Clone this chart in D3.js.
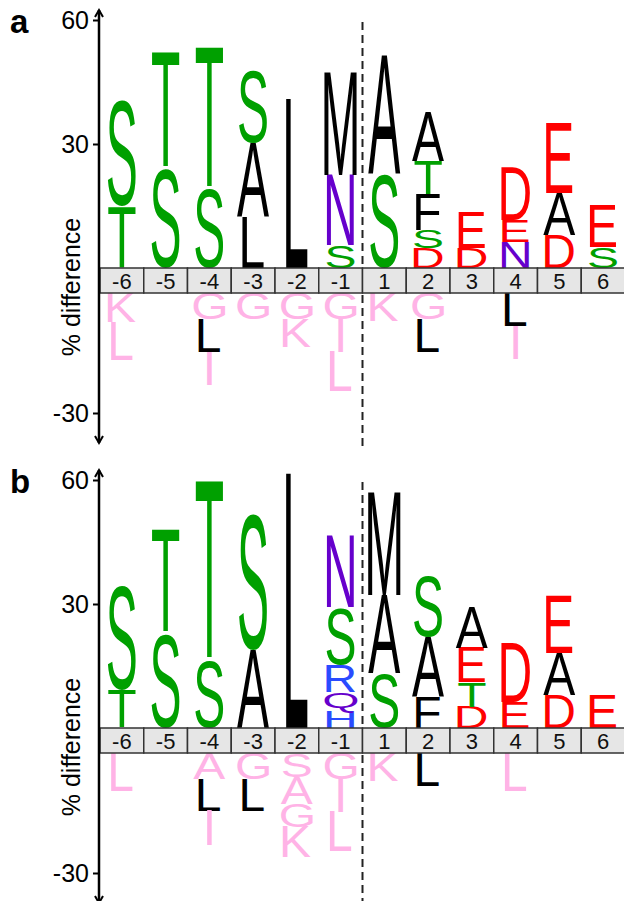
<!DOCTYPE html>
<html><head><meta charset="utf-8">
<script src="https://cdn.jsdelivr.net/npm/d3@7"></script>
<style>body{margin:0;background:#fff}svg{display:block}</style>
</head><body>
<svg id="chart" width="624" height="901"></svg>
<script>
const positions = ["-6","-5","-4","-3","-2","-1","1","2","3","4","5","6"];
const yTicksUp = [30, 60];
const yTicksDown = [-30];
const panelLabels = ["a", "b"];
const axisTitle = "% difference";

// Panel a — stacks listed from the band outward
const aUpLetters = [["T","S"],["S","T"],["S","T"],["L","A","S"],["L"],["S","N","M"],["S","A"],["D","S","F","T","A"],["D","E"],["N","E","D"],["D","A","E"],["S","E"]];
const aUpValues  = [[14.8,25.9],[24.2,28.1],[19.4,34.1],[12.3,17.9,17.9],[40.9],[5.6,16.9,24.9],[23.0,28.6],[4.8,4.4,8.5,8.2,11.6],[4.8,8.5],[6.3,5.3,12.6],[8.0,10.2,16.9],[5.1,10.2]];
const aDownLetters = [["K","L"],[],["G","L","I"],["G"],["G","K"],["G","I","L"],["K"],["G","L"],[],["L","I"],[],[]];
const aDownValues  = [[7.2,9.5],[],[6.5,8.2,8.2],[6.5],[6.5,7.0],[6.5,8.2,9.8],[7.0],[6.5,8.2],[],[8.2,8.2],[],[]];
const aDownTone    = [["pink","pink"],[],["pink","black","pink"],["pink"],["pink","pink"],["pink","pink","pink"],["pink"],["pink","black"],[],["black","pink"],[],[]];

// Panel b
const bUpLetters = [["T","S"],["S","T"],["S","T"],["A","S"],["L"],["H","Q","R","S","N"],["S","A","M"],["F","A","S"],["D","T","E","A"],["E","D"],["D","A","E"],["E"]];
const bUpValues  = [[9.2,25.4],[23.0,24.9],[16.5,43.1],[18.9,33.4],[61.7],[3.9,4.8,6.5,14.0,17.4],[13.3,18.9,24.7],[7.5,14.5,15.0],[5.1,6.0,8.2,9.9],[6.3,14.3],[8.0,10.2,14.0],[8.0]];
const bDownLetters = [["L"],[],["A","L","I"],["G","L"],["S","A","G","K"],["G","I","L"],["K"],["L"],[],["L"],[],[]];
const bDownValues  = [[9.5],[],[6.5,8.0,8.5],[6.5,8.0],[6.0,6.8,5.8,7.5],[6.5,8.2,9.8],[7.0],[8.2],[],[9.5],[],[]];
const bDownTone    = [["pink"],[],["pink","black","pink"],["pink","black"],["pink","pink","pink","pink"],["pink","pink","pink"],["pink"],["black"],[],["pink"],[],[]];

const colorMap = {S:"#00a000",T:"#00a000",A:"#000000",L:"#000000",M:"#000000",F:"#000000",
  N:"#6600cc",Q:"#6600cc",R:"#2a4bff",H:"#2a4bff",D:"#ff0000",E:"#ff0000"};
const toneMap = {pink:"#ffb3e6", black:"#000000"};

const FONT = "'Liberation Sans', Arial, Helvetica, sans-serif";
const svg = d3.select("#chart");
const ctx = document.createElement("canvas").getContext("2d");
ctx.font = "100px " + FONT;
const mCache = {};
function metrics(ch){
  if(!mCache[ch]){
    const m = ctx.measureText(ch);
    mCache[ch] = {left:m.actualBoundingBoxLeft, right:m.actualBoundingBoxRight,
      ascent:m.actualBoundingBoxAscent, descent:m.actualBoundingBoxDescent};
  }
  return mCache[ch];
}
function drawLetter(g, ch, color, cx, yTop, yBottom){
  const m = metrics(ch);
  const inkW = m.left + m.right;
  const w = inkW * 0.48;
  const h = yBottom - yTop;
  if(h <= 0) return;
  const sx = w / inkW, sy = h / (m.ascent + m.descent);
  g.append("text").text(ch)
    .attr("font-family", FONT).attr("font-size", 100).attr("fill", color)
    .attr("transform", `translate(${cx - w/2},${yTop}) scale(${sx},${sy}) translate(${m.left},${m.ascent})`);
}

const x = d3.scaleBand().domain(positions).range([100, 625]).padding(0);
const axisX = 99;

function drawPanel(off, label, upL, upV, dnL, dnV, dnT){
  const bandTop = 268 + off, bandBot = 293 + off;
  const yUp = d3.scaleLinear().domain([0, 60]).range([bandTop, 20 + off]);
  const yDn = d3.scaleLinear().domain([0, -30]).range([bandBot, 413 + off]);
  const g = svg.append("g");

  // dashed separator (behind letters)
  const xs = x("1");
  g.append("line").attr("x1", xs).attr("x2", xs).attr("y1", 22 + off).attr("y2", Math.min(448 + off, 901))
    .attr("stroke", "#222").attr("stroke-width", 2).attr("stroke-dasharray", "8,5");

  positions.forEach((p, i) => {
    const cx = x(p) + x.bandwidth()/2;
    let cum = 0;
    upL[i].forEach((ch, j) => {
      const v0 = cum, v1 = cum + upV[i][j];
      drawLetter(g, ch, colorMap[ch], cx, yUp(v1), yUp(v0));
      cum = v1;
    });
    cum = 0;
    dnL[i].forEach((ch, j) => {
      const v0 = cum, v1 = cum - dnV[i][j];
      drawLetter(g, ch, toneMap[dnT[i][j]], cx, yDn(v0), yDn(v1));
      cum = v1;
    });
  });

  // position band
  const band = g.append("g");
  band.selectAll("rect").data(positions).join("rect")
    .attr("x", d => x(d)).attr("y", bandTop).attr("width", x.bandwidth()).attr("height", bandBot - bandTop)
    .attr("fill", "#e6e6e6").attr("stroke", "#333").attr("stroke-width", 1.5);
  band.selectAll("text").data(positions).join("text")
    .attr("x", d => x(d) + x.bandwidth()/2).attr("y", (bandTop + bandBot)/2 + 8)
    .attr("text-anchor", "middle").attr("font-family", FONT).attr("font-size", 22).attr("fill", "#111")
    .text(d => d);

  // axes
  const axUp = d3.axisLeft(yUp).tickValues(yTicksUp).tickSize(6).tickPadding(4);
  const axDn = d3.axisLeft(yDn).tickValues(yTicksDown).tickFormat(d => d).tickSize(6).tickPadding(4);
  [axUp, axDn].forEach(ax => {
    const a = g.append("g").attr("transform", `translate(${axisX},0)`).call(ax);
    a.select(".domain").remove();
    a.selectAll("line").attr("stroke", "#000").attr("stroke-width", 2);
    a.selectAll("text").attr("font-family", FONT).attr("font-size", 25).attr("fill", "#000");
  });
  const yA = 10 + off, yB = 443 + off;
  g.append("line").attr("x1", axisX).attr("x2", axisX).attr("y1", yA).attr("y2", yB)
    .attr("stroke", "#000").attr("stroke-width", 2.5);
  g.append("path").attr("d", `M${axisX-4},${yA+7}L${axisX},${yA}L${axisX+4},${yA+7}`)
    .attr("fill", "none").attr("stroke", "#000").attr("stroke-width", 2);
  g.append("path").attr("d", `M${axisX-4},${yB-7}L${axisX},${yB}L${axisX+4},${yB-7}`)
    .attr("fill", "none").attr("stroke", "#000").attr("stroke-width", 2);

  g.append("text").attr("transform", `translate(80,${287 + off}) rotate(-90)`)
    .attr("text-anchor", "middle").attr("font-family", FONT).attr("font-size", 25).text(axisTitle);
  g.append("text").attr("x", 10).attr("y", 33 + off).attr("font-family", FONT)
    .attr("font-weight", "bold").attr("font-size", 33).text(label);
}

drawPanel(0, panelLabels[0], aUpLetters, aUpValues, aDownLetters, aDownValues, aDownTone);
drawPanel(460, panelLabels[1], bUpLetters, bUpValues, bDownLetters, bDownValues, bDownTone);
</script>
</body></html>
